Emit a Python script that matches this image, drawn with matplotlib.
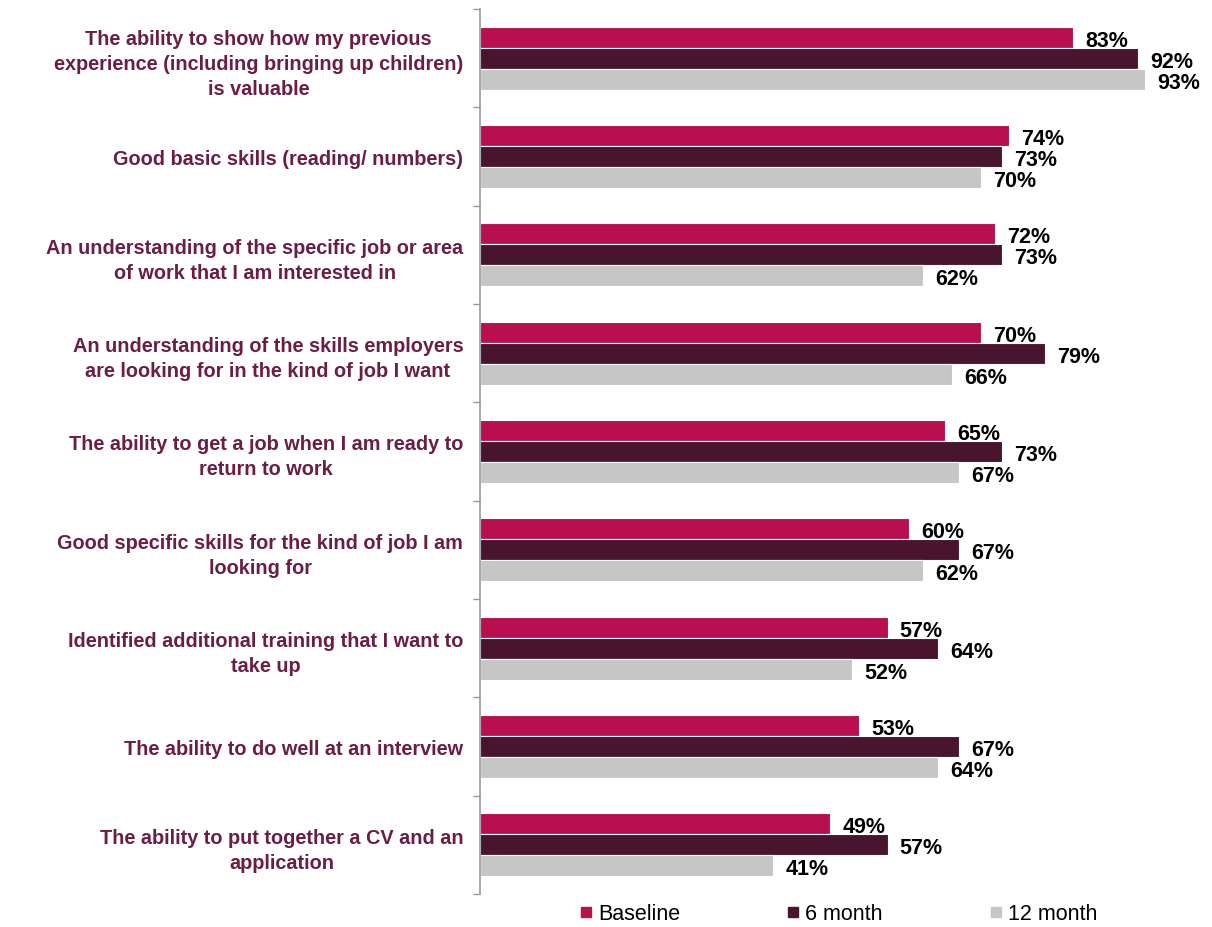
import matplotlib.pyplot as plt
from matplotlib.lines import Line2D
import numpy as np

plt.rcParams['font.family'] = ['Liberation Sans', 'DejaVu Sans']

# categories, top to bottom
categories = [
    "The ability to show how my previous\nexperience (including bringing up children)\nis valuable",
    "Good basic skills (reading/ numbers)",
    "An understanding of the specific job or area\nof work that I am interested in",
    "An understanding of the skills employers\nare looking for in the kind of job I want",
    "The ability to get a job when I am ready to\nreturn to work",
    "Good specific skills for the kind of job I am\nlooking for",
    "Identified additional training that I want to\ntake up",
    "The ability to do well at an interview",
    "The ability to put together a CV and an\napplication",
]
baseline = [83, 74, 72, 70, 65, 60, 57, 53, 49]
month_6 = [92, 73, 73, 79, 73, 67, 64, 67, 57]
month_12 = [93, 70, 62, 66, 67, 62, 52, 64, 41]

series_names = ["Baseline", "6 month", "12 month"]
colors = ["#B80F4F", "#48142E", "#C6C6C6"]
label_color = "#6B1D45"

fig = plt.figure(figsize=(12.12, 9.28), dpi=100)
ax = fig.add_axes([480 / 1212, 1 - 895 / 928, 715 / 1212, 885 / 928])

n = len(categories)
y = np.arange(n)
h = 0.214
for i, (vals, col) in enumerate(zip([baseline, month_6, month_12], colors)):
    pos = y + (i - 1) * h
    ax.barh(pos, vals, height=h, color=col, edgecolor='white', linewidth=0.8)
    for p, v in zip(pos, vals):
        ax.text(v + 1.7, p + 0.03, f"{v}%", va='center', ha='left',
                fontsize=15.5, fontweight='bold', color='black')

ax.set_xlim(0, 100)
ax.set_ylim(n - 0.5, -0.5)

ax.set_yticks(y)
ax.set_yticklabels(categories, fontsize=14.3, fontweight='bold',
                   color=label_color, multialignment='center', linespacing=1.4)
ax.tick_params(axis='y', which='major', length=0, pad=12)
ax.set_yticks(np.arange(-0.5, n, 1), minor=True)
ax.tick_params(axis='y', which='minor', length=5, color='#999999', width=1)
ax.set_xticks([])

for s in ['top', 'right', 'bottom']:
    ax.spines[s].set_visible(False)
ax.spines['left'].set_color('#999999')
ax.spines['left'].set_linewidth(1.2)

handles = [Line2D([], [], marker='s', linestyle='none', markersize=7,
                  markerfacecolor=c, markeredgecolor=c) for c in colors]
fig.legend(handles, series_names, loc='center', bbox_to_anchor=(838 / 1212, 1 - 915 / 928),
           ncol=3, frameon=False, fontsize=15.5, handletextpad=0.2,
           columnspacing=4.9, handlelength=0.7, borderpad=0.2)

fig.savefig("out.png", dpi=100)
